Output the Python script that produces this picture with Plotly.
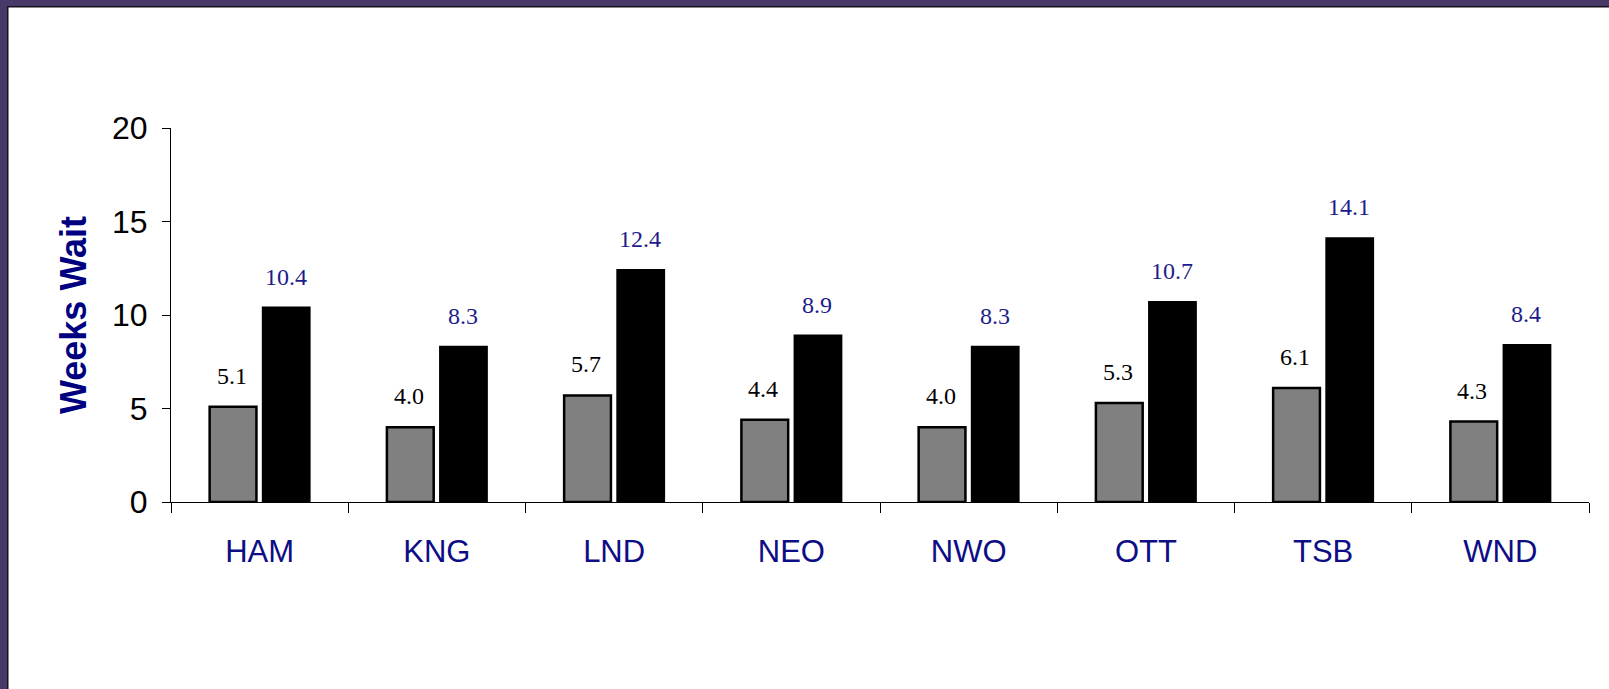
import plotly.graph_objects as go

# Regions and average wait (weeks) for the two series
regions = ["HAM", "KNG", "LND", "NEO", "NWO", "OTT", "TSB", "WND"]
wait_first = [5.1, 4.0, 5.7, 4.4, 4.0, 5.3, 6.1, 4.3]
wait_second = [10.4, 8.3, 12.4, 8.9, 8.3, 10.7, 14.1, 8.4]
y_ticks = [0, 5, 10, 15, 20]

W, H = 1609, 689
ML, MR, MT, MB = 171, 20, 128, 187
PW, PH = W - ML - MR, H - MT - MB

NAVY = "#0d0d85"
SANS = "Liberation Sans, Arial, sans-serif"
SERIF = "Liberation Serif, Times New Roman, serif"

fig = go.Figure()
fig.add_trace(go.Bar(
    x=regions, y=wait_first, marker=dict(color="#808080", line=dict(color="#000000", width=2.5)),
    showlegend=False, hoverinfo="skip"))
fig.add_trace(go.Bar(
    x=regions, y=wait_second, marker=dict(color="#000000", line=dict(color="#000000", width=2)),
    showlegend=False, hoverinfo="skip"))

# value labels above each bar
annotations = []
for r, a, b in zip(regions, wait_first, wait_second):
    annotations.append(dict(x=r, y=a, xref="x", yref="y", text=f"{a:.1f}", showarrow=False,
                            yanchor="bottom", yshift=16, xshift=-28,
                            font=dict(family=SERIF, size=24, color="#000000")))
    annotations.append(dict(x=r, y=b, xref="x", yref="y", text=f"{b:.1f}", showarrow=False,
                            yanchor="bottom", yshift=16, xshift=26,
                            font=dict(family=SERIF, size=24, color="#1c1c8c")))


def px_x(px):
    return (px - ML) / PW


def px_y(py):
    return (H - MB - py) / PH


# frame bands along the top and left edges
PURPLE = "#473a69"
shapes = [
    dict(type="rect", xref="paper", yref="paper", x0=px_x(0), x1=px_x(W), y0=px_y(0), y1=px_y(6),
         fillcolor=PURPLE, line=dict(width=0), layer="above"),
    dict(type="rect", xref="paper", yref="paper", x0=px_x(7), x1=px_x(W), y0=px_y(6), y1=px_y(7.5),
         fillcolor="#15121f", line=dict(width=0), layer="above"),
    dict(type="rect", xref="paper", yref="paper", x0=px_x(0), x1=px_x(7), y0=px_y(0), y1=px_y(H),
         fillcolor=PURPLE, line=dict(width=0), layer="above"),
    dict(type="rect", xref="paper", yref="paper", x0=px_x(7), x1=px_x(8.5), y0=px_y(6), y1=px_y(H),
         fillcolor="#15121f", line=dict(width=0), layer="above"),
]

fig.update_layout(
    width=W, height=H,
    margin=dict(l=ML, r=MR, t=MT, b=MB, autoexpand=False),
    paper_bgcolor="#ffffff", plot_bgcolor="#ffffff",
    barmode="group", bargap=0.40, bargroupgap=0.12,
    annotations=annotations, shapes=shapes,
    xaxis=dict(type="category", range=[-0.5, 7.5], showline=True, linecolor="#000000", linewidth=1,
               ticks="outside", ticklen=10, tickcolor="#000000", tickson="boundaries",
               showgrid=False, zeroline=False, ticklabelstandoff=22,
               tickfont=dict(family=SANS, size=31, color=NAVY)),
    yaxis=dict(range=[0, 20], tickvals=y_ticks, showline=True, linecolor="#000000", linewidth=1,
               ticks="outside", ticklen=8, tickcolor="#000000", showgrid=False, zeroline=False,
               ticklabelstandoff=8, tickfont=dict(family=SANS, size=32, color="#000000"),
               title=dict(text="<b>Weeks Wait</b>", standoff=14,
                          font=dict(family=SANS, size=36, color="#000080"))),
    # inner halves of the crossing tick marks
    xaxis2=dict(overlaying="x", anchor="y", side="bottom", range=[-0.5, 7.5],
                tickvals=[i - 0.5 for i in range(len(regions) + 1)], ticks="inside", ticklen=10,
                tickcolor="#000000", showticklabels=False, showgrid=False, zeroline=False,
                showline=False),
    yaxis2=dict(overlaying="y", anchor="x", side="left", range=[0, 20], tickvals=y_ticks,
                ticks="inside", ticklen=8, tickcolor="#000000", showticklabels=False,
                showgrid=False, zeroline=False, showline=False),
)

fig.write_html("out.html")
